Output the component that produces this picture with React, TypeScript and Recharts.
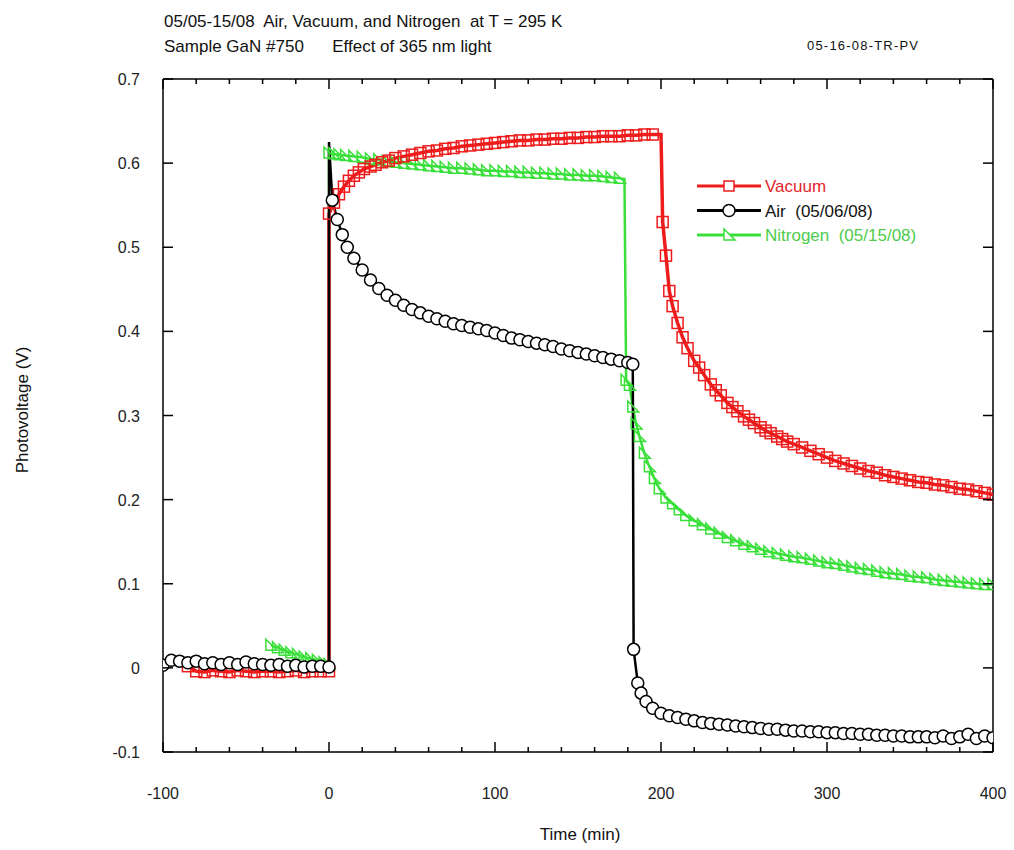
import React from "react";
import { LineChart, Line, XAxis, YAxis, ReferenceLine } from "recharts";

const FONT = "Arial, 'Liberation Sans', Helvetica, sans-serif";
const RED = "#ee1c1c";
const GREEN = "#3ae03a";

// plot frame in page pixels
const PLOT = { left: 163, right: 993, top: 79, bottom: 752 };
const Y_AXIS_W = 60;
const X_AXIS_H = 30;

// [time (min), photovoltage (V), 0 = no marker]
type Pt = [number, number, number?];

const airPoints: Pt[] = [
  [-100, 0.003], [-95, 0.009], [-90, 0.008], [-85, 0.006], [-80, 0.008], [-75, 0.005],
  [-70, 0.006], [-65, 0.004], [-60, 0.006], [-55, 0.004], [-50, 0.007], [-45, 0.005],
  [-40, 0.004], [-35, 0.003], [-30, 0.004], [-25, 0.002], [-20, 0.003], [-15, 0.001],
  [-10, 0.002], [-5, 0.002], [0, 0.001],
  [0, 0.625, 0], [2, 0.556], [5, 0.533], [8, 0.515], [11, 0.5], [15, 0.487], [20, 0.473],
  [25, 0.461], [30, 0.451], [35, 0.443], [40, 0.437], [45, 0.431], [50, 0.426], [55, 0.422],
  [60, 0.418], [65, 0.415], [70, 0.412], [75, 0.409], [80, 0.407], [85, 0.405], [90, 0.403],
  [95, 0.401], [100, 0.398], [105, 0.395], [110, 0.392], [115, 0.39], [120, 0.388],
  [125, 0.386], [130, 0.384], [135, 0.382], [140, 0.379], [145, 0.377], [150, 0.375],
  [155, 0.373], [160, 0.371], [165, 0.369], [170, 0.367], [175, 0.365], [180, 0.363],
  [183, 0.361],
  [183.5, 0.022], [186, -0.018], [188, -0.03], [191, -0.04], [195, -0.048], [200, -0.054],
  [205, -0.057], [210, -0.059], [215, -0.061], [220, -0.063], [225, -0.065], [230, -0.066],
  [235, -0.067], [240, -0.068], [245, -0.069], [250, -0.07], [255, -0.071], [260, -0.072],
  [265, -0.073], [270, -0.073], [275, -0.074], [280, -0.075], [285, -0.075], [290, -0.076],
  [295, -0.076], [300, -0.077], [305, -0.077], [310, -0.078], [315, -0.078], [320, -0.079],
  [325, -0.079], [330, -0.08], [335, -0.08], [340, -0.081], [345, -0.081], [350, -0.082],
  [355, -0.082], [360, -0.082], [365, -0.083], [370, -0.081], [375, -0.084], [380, -0.082],
  [385, -0.079], [390, -0.084], [395, -0.081], [400, -0.083],
];

const vacuumPoints: Pt[] = [
  [-85, 0.002], [-80, -0.004], [-75, -0.005], [-70, -0.003], [-65, -0.004], [-60, -0.005],
  [-55, -0.003], [-50, -0.004], [-45, -0.005], [-40, -0.004], [-35, -0.004], [-30, -0.005],
  [-25, -0.004], [-20, -0.003], [-15, -0.005], [-10, -0.004], [-5, -0.004], [0, -0.004],
  [0, 0.54], [3, 0.553], [6, 0.563], [9, 0.572], [12, 0.579], [15, 0.585], [18, 0.589],
  [21, 0.593], [25, 0.596], [28, 0.598], [32, 0.601], [36, 0.603], [40, 0.606], [45, 0.608],
  [50, 0.61], [55, 0.612], [60, 0.614], [65, 0.615], [70, 0.617], [75, 0.618], [80, 0.62],
  [85, 0.621], [90, 0.622], [95, 0.623], [100, 0.624], [105, 0.625], [110, 0.626],
  [115, 0.627], [120, 0.627], [125, 0.628], [130, 0.628], [135, 0.629], [140, 0.629],
  [145, 0.63], [150, 0.63], [155, 0.631], [160, 0.631], [165, 0.632], [170, 0.632],
  [175, 0.632], [180, 0.633], [185, 0.633], [190, 0.634], [195, 0.634], [200, 0.634, 0],
  [201, 0.53], [203, 0.49], [205, 0.448], [207, 0.43], [210, 0.41], [213, 0.393], [216, 0.38],
  [220, 0.365], [223, 0.357], [226, 0.348], [230, 0.337], [233, 0.33], [236, 0.324],
  [240, 0.315], [243, 0.31], [246, 0.305], [250, 0.299], [253, 0.295], [256, 0.291],
  [260, 0.286], [263, 0.282], [266, 0.279], [270, 0.275], [273, 0.272], [276, 0.269],
  [280, 0.266], [285, 0.262], [290, 0.258], [295, 0.254], [300, 0.25], [305, 0.246],
  [310, 0.243], [315, 0.24], [320, 0.237], [325, 0.234], [330, 0.232], [335, 0.229],
  [340, 0.227], [345, 0.225], [350, 0.223], [355, 0.221], [360, 0.22], [365, 0.218],
  [370, 0.217], [375, 0.215], [380, 0.213], [385, 0.212], [390, 0.21], [395, 0.208],
  [400, 0.206],
];

const nitrogenPoints: Pt[] = [
  [-35, 0.027], [-31, 0.024], [-27, 0.021], [-23, 0.018], [-19, 0.016], [-15, 0.013],
  [-11, 0.011], [-7, 0.009], [-3, 0.006], [0, 0.004],
  [0, 0.612], [3, 0.611], [6, 0.61], [10, 0.609], [15, 0.608], [20, 0.607], [25, 0.605],
  [30, 0.604], [35, 0.602], [40, 0.601], [45, 0.6], [50, 0.599], [55, 0.598], [60, 0.597],
  [65, 0.596], [70, 0.595], [75, 0.594], [80, 0.594], [85, 0.593], [90, 0.592], [95, 0.591],
  [100, 0.591], [105, 0.59], [110, 0.59], [115, 0.589], [120, 0.589], [125, 0.588],
  [130, 0.588], [135, 0.587], [140, 0.587], [145, 0.586], [150, 0.586], [155, 0.585],
  [160, 0.585], [165, 0.584], [170, 0.583], [175, 0.582], [178, 0.581, 0],
  [179, 0.342], [181, 0.336], [183, 0.31], [185, 0.29], [187, 0.275], [190, 0.255],
  [193, 0.239], [196, 0.225], [199, 0.213], [203, 0.202], [207, 0.195], [211, 0.188],
  [215, 0.181], [220, 0.175], [225, 0.17], [230, 0.165], [235, 0.16], [240, 0.155],
  [245, 0.151], [250, 0.147], [255, 0.144], [260, 0.141], [265, 0.138], [270, 0.136],
  [275, 0.134], [280, 0.132], [285, 0.131], [290, 0.129], [295, 0.127], [300, 0.125],
  [305, 0.124], [310, 0.122], [315, 0.12], [320, 0.118], [325, 0.117], [330, 0.115],
  [335, 0.113], [340, 0.112], [345, 0.111], [350, 0.109], [355, 0.108], [360, 0.107],
  [365, 0.105], [370, 0.104], [375, 0.103], [380, 0.102], [385, 0.101], [390, 0.1],
  [395, 0.099], [400, 0.099],
];

const xMajorTicks = [-100, 0, 100, 200, 300, 400];
const xAllTicks = [
  -100, -80, -60, -40, -20, 0, 20, 40, 60, 80, 100, 120, 140, 160, 180, 200,
  220, 240, 260, 280, 300, 320, 340, 360, 380, 400,
];
const yTicks = [-0.1, 0, 0.1, 0.2, 0.3, 0.4, 0.5, 0.6, 0.7];
const xDomain = [-100, 400];
const yDomain = [-0.1, 0.7];

const toRows = (pts: Pt[]) => pts.map(([t, v, m]) => ({ t, v, mark: m !== 0 }));

// frame tick positions (same linear mapping as the chart's plot area)
const tx = (t: number) =>
  PLOT.left + ((t - xDomain[0]) / (xDomain[1] - xDomain[0])) * (PLOT.right - PLOT.left);
const ty = (v: number) =>
  PLOT.bottom - ((v - yDomain[0]) / (yDomain[1] - yDomain[0])) * (PLOT.bottom - PLOT.top);

const circleDot = (p: any) =>
  p.payload?.mark ? (
    <circle key={p.index} cx={p.cx} cy={p.cy} r={6} fill="#fff" stroke="#000" strokeWidth={1.5} />
  ) : (
    <g key={p.index} />
  );

const squareDot = (p: any) =>
  p.payload?.mark ? (
    <rect key={p.index} x={p.cx - 5.5} y={p.cy - 5.5} width={11} height={11} fill="none" stroke={RED} strokeWidth={1.5} />
  ) : (
    <g key={p.index} />
  );

const triangleDot = (p: any) =>
  p.payload?.mark ? (
    <polygon
      key={p.index}
      points={`${p.cx - 5},${p.cy - 6} ${p.cx + 6},${p.cy + 5} ${p.cx - 5},${p.cy + 5}`}
      fill="none"
      stroke={GREEN}
      strokeWidth={1.5}
    />
  ) : (
    <g key={p.index} />
  );

function XTick(props: any) {
  const { x, y, payload } = props;
  return (
    <text x={x} y={y + 14} textAnchor="middle" fontSize={16} fontFamily={FONT} fill="#222">
      {payload.value}
    </text>
  );
}

function YTick(props: any) {
  const { x, y, payload } = props;
  return (
    <text x={x} y={y + 6} textAnchor="end" fontSize={16} fontFamily={FONT} fill="#222">
      {String(Math.round(payload.value * 10) / 10)}
    </text>
  );
}

function FrameTicks() {
  return (
    <g stroke="#000" strokeWidth={1.5}>
      {xAllTicks.map((t) => {
        const len = xMajorTicks.includes(t) ? 10 : 5;
        const x = tx(t);
        return (
          <g key={`x${t}`}>
            <line x1={x} x2={x} y1={PLOT.bottom} y2={PLOT.bottom - len} />
            <line x1={x} x2={x} y1={PLOT.top} y2={PLOT.top + len} />
          </g>
        );
      })}
      {yTicks.map((v) => {
        const y = ty(v);
        return (
          <g key={`y${v}`}>
            <line x1={PLOT.left} x2={PLOT.left + 10} y1={y} y2={y} />
            <line x1={PLOT.right} x2={PLOT.right - 10} y1={y} y2={y} />
          </g>
        );
      })}
    </g>
  );
}

function LegendOverlay() {
  const rows = [
    { label: "Vacuum", color: RED, text: "#e3262b", kind: "square" },
    { label: "Air  (05/06/08)", color: "#000", text: "#111", kind: "circle" },
    { label: "Nitrogen  (05/15/08)", color: GREEN, text: "#4ccb4c", kind: "triangle" },
  ];
  return (
    <>
      {rows.map((r, i) => {
        const y = 186 + i * 24.5;
        const cx = 729;
        return (
          <g key={r.label}>
            <line x1={697} x2={761} y1={y} y2={y} stroke={r.color} strokeWidth={3} />
            {r.kind === "square" && (
              <rect x={cx - 5} y={y - 5} width={10} height={10} fill="#fff" stroke={r.color} strokeWidth={1.5} />
            )}
            {r.kind === "circle" && <circle cx={cx} cy={y} r={6} fill="#fff" stroke="#000" strokeWidth={1.5} />}
            {r.kind === "triangle" && (
              <polygon
                points={`${cx - 5},${y - 6} ${cx + 6},${y + 5} ${cx - 5},${y + 5}`}
                fill="#fff"
                stroke={r.color}
                strokeWidth={1.5}
              />
            )}
            <text x={765} y={y + 6} fontSize={17} fontFamily={FONT} fill={r.text} style={{ whiteSpace: "pre" }}>
              {r.label}
            </text>
          </g>
        );
      })}
    </>
  );
}

export default function App() {
  return (
    <div style={{ position: "absolute", left: 0, top: 0, width: 1014, height: 850, background: "#fff" }}>
      <LineChart
        width={1014}
        height={850}
        margin={{
          top: PLOT.top,
          right: 1014 - PLOT.right,
          bottom: 850 - PLOT.bottom - X_AXIS_H,
          left: PLOT.left - Y_AXIS_W,
        }}
      >
        <XAxis
          type="number"
          dataKey="t"
          domain={xDomain}
          allowDataOverflow
          ticks={xMajorTicks}
          interval={0}
          tick={<XTick />}
          tickLine={false}
          tickSize={0}
          tickMargin={33}
          height={X_AXIS_H}
          axisLine={{ stroke: "#000", strokeWidth: 1.5 }}
        />
        <YAxis
          type="number"
          domain={yDomain}
          allowDataOverflow
          ticks={yTicks}
          interval={0}
          tick={<YTick />}
          tickLine={false}
          tickSize={0}
          tickMargin={23}
          width={Y_AXIS_W}
          axisLine={{ stroke: "#000", strokeWidth: 1.5 }}
        />
        <ReferenceLine y={yDomain[1]} stroke="#000" strokeWidth={1.5} ifOverflow="visible" />
        <ReferenceLine x={xDomain[1]} stroke="#000" strokeWidth={1.5} ifOverflow="visible" />
        <Line
          data={toRows(nitrogenPoints)}
          dataKey="v"
          type="linear"
          stroke={GREEN}
          strokeWidth={2.5}
          dot={triangleDot}
          isAnimationActive={false}
        />
        <Line
          data={toRows(vacuumPoints)}
          dataKey="v"
          type="linear"
          stroke={RED}
          strokeWidth={3.5}
          dot={squareDot}
          isAnimationActive={false}
        />
        <Line
          data={toRows(airPoints)}
          dataKey="v"
          type="linear"
          stroke="#000"
          strokeWidth={2.5}
          dot={circleDot}
          isAnimationActive={false}
        />
      </LineChart>
      <svg
        width={1014}
        height={850}
        style={{ position: "absolute", left: 0, top: 0, pointerEvents: "none" }}
      >
        <FrameTicks />
        <text x={164} y={27} fontSize={17} fontFamily={FONT} fill="#111" style={{ whiteSpace: "pre" }}>
          05/05-15/08  Air, Vacuum, and Nitrogen  at T = 295 K
        </text>
        <text x={164} y={52} fontSize={17} fontFamily={FONT} fill="#111" style={{ whiteSpace: "pre" }}>
          Sample GaN #750      Effect of 365 nm light
        </text>
        <text x={807} y={50} fontSize={13} fontFamily={FONT} fill="#111" letterSpacing={1.2}>
          05-16-08-TR-PV
        </text>
        <text
          x={28}
          y={410}
          fontSize={17}
          fontFamily={FONT}
          fill="#111"
          textAnchor="middle"
          transform="rotate(-90 28 410)"
        >
          Photovoltage (V)
        </text>
        <text x={580} y={840} fontSize={17} fontFamily={FONT} fill="#111" textAnchor="middle">
          Time (min)
        </text>
        <LegendOverlay />
      </svg>
    </div>
  );
}
